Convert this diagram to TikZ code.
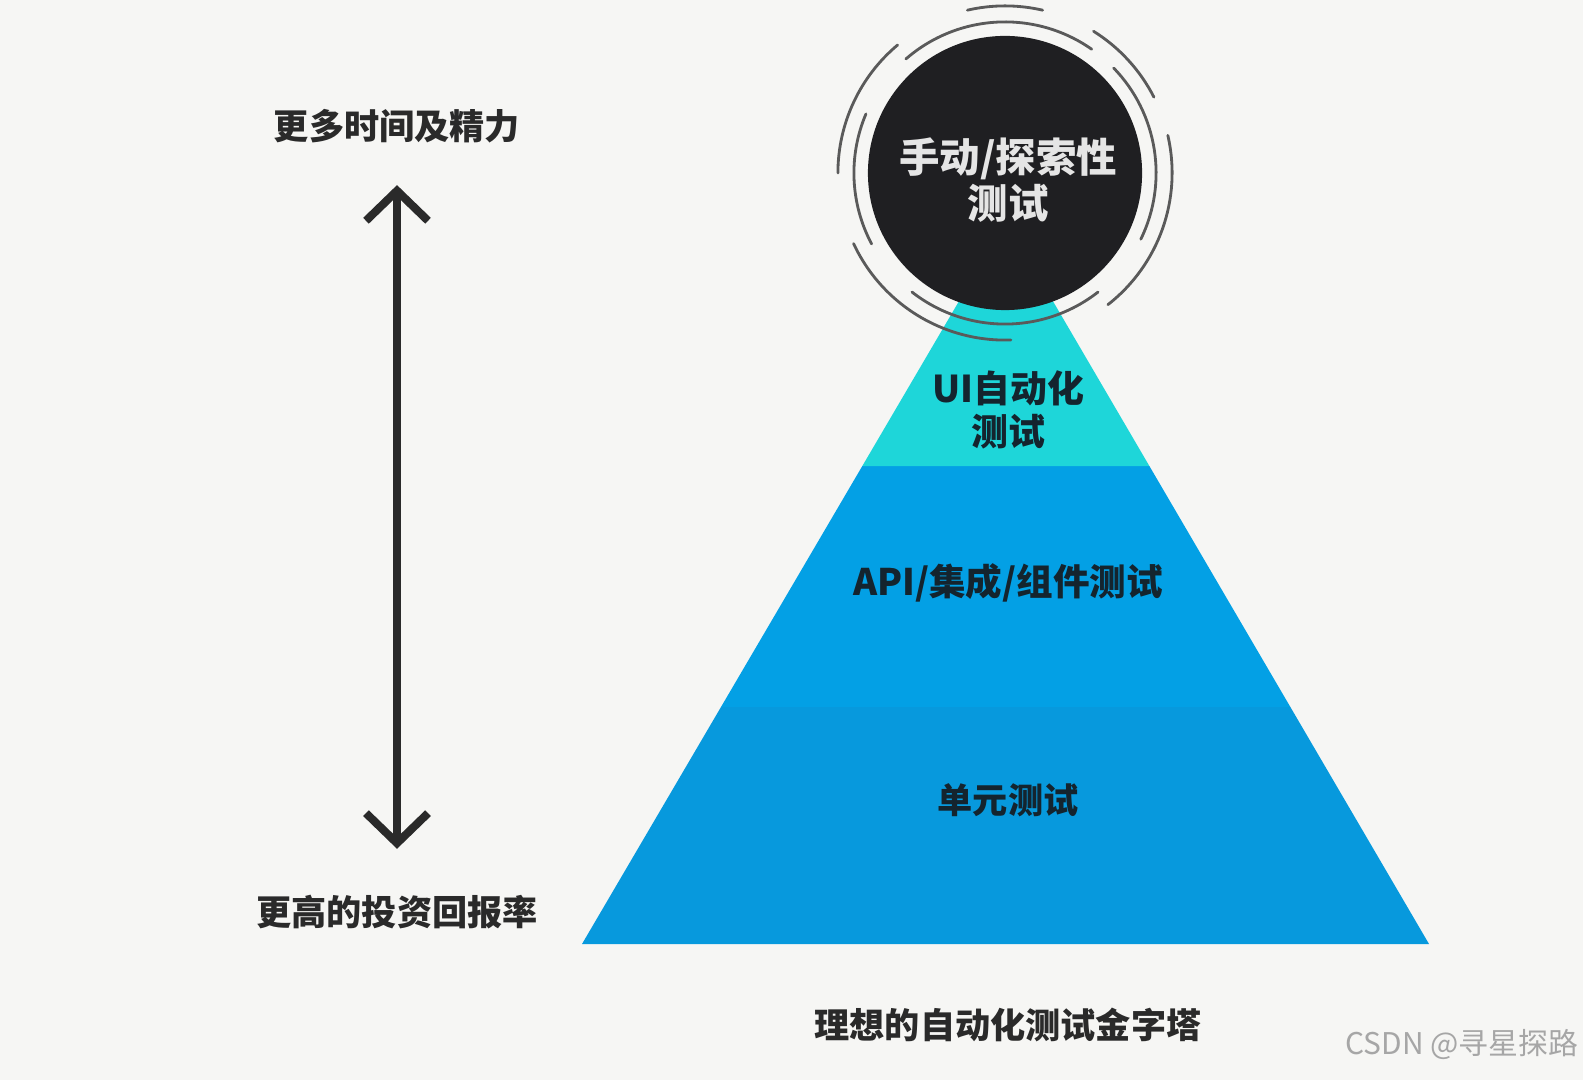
\documentclass[tikz,border=0pt]{standalone}
\usepackage{fontspec}
\setmainfont{Noto Sans CJK SC}
\usetikzlibrary{arrows.meta,positioning,calc}
\definecolor{PaperBg}{HTML}{F6F6F4}
\definecolor{UICyan}{HTML}{1ED6D9}
\definecolor{APIBlue}{HTML}{03A0E5}
\definecolor{UnitBlue}{HTML}{0799DD}
\definecolor{ManualBlack}{HTML}{1F1F22}
\definecolor{RingGray}{HTML}{5A5A5A}
\definecolor{InkDark}{HTML}{2A2A2A}
\definecolor{InkBlue}{HTML}{14242E}

\begin{document}
\begin{tikzpicture}[x=0.01cm, y=-0.01cm, every node/.style={font=\bfseries\fontsize{10pt}{12pt}\selectfont, inner sep=1pt},
  ring/.style={RingGray, line width=0.8pt, line cap=round},
  layertext/.style={text=InkBlue, align=center}]
  \fill[PaperBg] (0,0) rectangle (1583,1080);
  \useasboundingbox (0,0) rectangle (1583,1080);
  \coordinate (apex) at (1006,221);
  \coordinate (bl) at (582,944);
  \coordinate (br) at (1429,944);
  \fill[UnitBlue] ($(apex)!0.672!(bl)$) -- (bl) -- (br) -- ($(apex)!0.672!(br)$) -- cycle;
  \fill[APIBlue] ($(apex)!0.339!(bl)$) -- ($(apex)!0.672!(bl)$) -- ($(apex)!0.672!(br)$) -- ($(apex)!0.339!(br)$) -- cycle;
  \fill[UICyan] (apex) -- ($(apex)!0.339!(bl)$) -- ($(apex)!0.339!(br)$) -- cycle;
  \node[circle, fill=ManualBlack, minimum size=2.74cm] (manual) at (1005,173) {};
  \node[text=white!90!black, align=center, font=\bfseries\fontsize{11.5pt}{13pt}\selectfont] (manualtext) at (1008,180) {手动/探索性\\测试};
  \begin{scope}[shift={(manual.center)}, x=1cm, y=1cm]
    \foreach \s/\e in {55/131,157/208,232/308,-26/44}
      \draw[ring] (\s:1.51) arc[start angle=\s, end angle=\e, radius=1.51];
    \foreach \s/\e in {77/103,130/180,205/272,27/58,-52/13}
      \draw[ring] (\s:1.67) arc[start angle=\s, end angle=\e, radius=1.67];
  \end{scope}
  \node[layertext, font=\bfseries\fontsize{10.5pt}{12.2pt}\selectfont] (ui) at (1008,410) {UI自动化\\测试};
  \node[layertext, font=\bfseries\fontsize{10.4pt}{12pt}\selectfont] (api) at (1008,583) {API/集成/组件测试};
  \node[layertext] (unit) at (1008,800) {单元测试};
  \node[text=InkDark] (more) at (397,126) {更多时间及精力};
  \node[text=InkDark] (roi) at (397,912) {更高的投资回报率};
  \draw[{Straight Barb[length=0.3cm,width=0.62cm]}-{Straight Barb[length=0.3cm,width=0.62cm]}, InkDark, line width=2.3pt, line cap=round, line join=round, shorten <=0.38cm, shorten >=0.42cm] (more) -- (roi);
  \node[text=InkDark] (title) at (1008,1025) {理想的自动化测试金字塔};
  \node[text=black!35, font=\mdseries\fontsize{8.5pt}{10pt}\selectfont] (csdn) at (1462,1045) {CSDN @寻星探路};
\end{tikzpicture}
\end{document}
